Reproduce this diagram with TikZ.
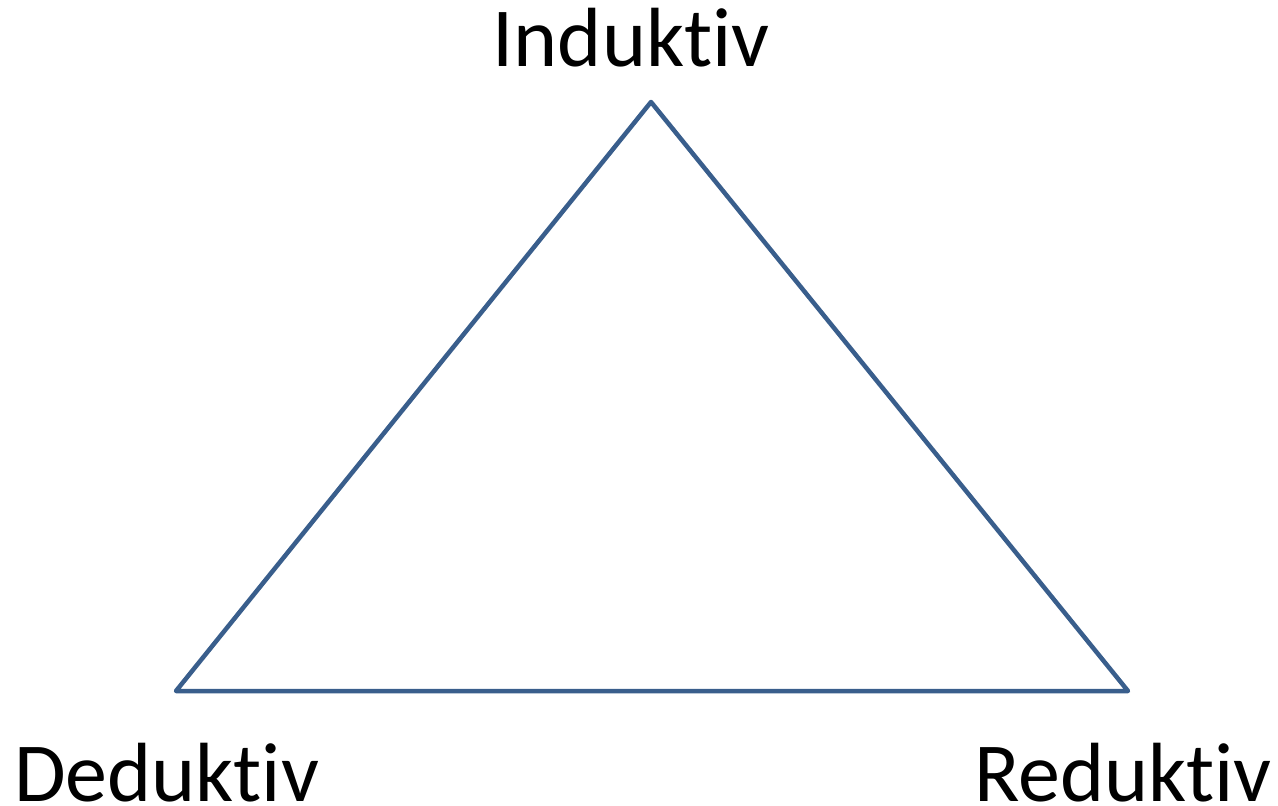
\documentclass[tikz,border=0pt]{standalone}
\usepackage{fontspec}
\setmainfont{Carlito}[Ligatures={NoCommon}]
\definecolor{tri}{RGB}{57,94,140}
\begin{document}
\begin{tikzpicture}[x=1pt,y=-1pt,
  lbl/.style={inner sep=0pt,text depth=0pt,font=\fontsize{84}{100}\selectfont},
  edge/.style={draw=tri,line width=4.5pt,line join=round,line cap=round}]
\useasboundingbox (0,0) rectangle (1278,806);
\coordinate (top) at (651,102);
\coordinate (bl) at (176,691);
\coordinate (br) at (1128,691);
\draw[edge] (top) -- (br) -- (bl) -- cycle;
\node[lbl,anchor=base] (ind) at (631,66) {Induktiv};
\node[lbl,anchor=base west] (ded) at (14,801) {Deduktiv};
\node[lbl,anchor=base east] (red) at (1272,801) {Reduktiv};
\end{tikzpicture}
\end{document}
